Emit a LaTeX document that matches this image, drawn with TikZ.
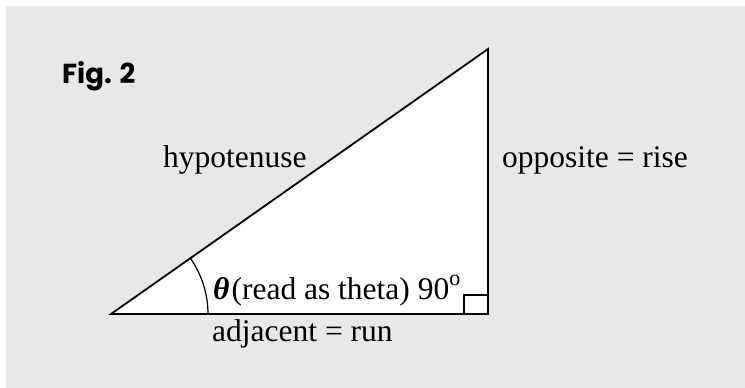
\documentclass[tikz,border=0pt]{standalone}
\usepackage{fontspec}
\setmainfont{Liberation Serif}
\newfontfamily\figfont{Poppins}[UprightFont=* Bold]
\definecolor{bggray}{HTML}{E8E8E8}
\tikzset{
  side/.style={line width=1.8pt, line join=miter},
  lbl/.style={anchor=base west, inner sep=0pt, font=\fontsize{31.5}{36}\selectfont},
}
\begin{document}
\begin{tikzpicture}[x=1pt,y=-1pt]
\useasboundingbox (0,0) rectangle (745,388);
\fill[bggray] (6,6) rectangle (745,388);
\coordinate (A) at (111,314);
\coordinate (B) at (488,314);
\coordinate (C) at (488,49);
\fill[white] (A) -- (B) -- (C) -- cycle;
\draw[line width=1.2pt] (A) ++(97,0) arc[start angle=0, end angle=-35.1, radius=97];
\draw[line width=1.4pt] (B) ++(-24,0) coordinate (sq1) -- ++(0,-19) coordinate (sq2) -- ++(24,0) coordinate (sq3);
\draw[side] (A) -- (B) -- (C) -- cycle;
\node[anchor=base west, inner sep=0pt, font=\figfont\fontsize{27.5}{32}\selectfont] (fig) at (62,83) {Fig. 2};
\node[lbl] (hyp) at (163,167) {hypotenuse};
\node[lbl] (opp) at (502,167) {opposite = rise};
\node[lbl] (adj) at (212,341) {adjacent = run};
\node[lbl] (theta) at (213,299) {{\bfseries\itshape θ}\kern2pt(read as theta) 90\raisebox{4pt}{\textsuperscript{o}}};
\end{tikzpicture}
\end{document}
